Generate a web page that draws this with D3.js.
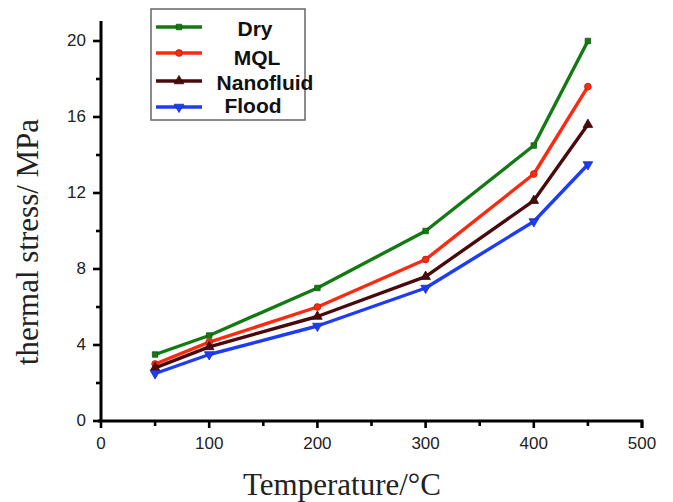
<!DOCTYPE html>
<html>
<head>
<meta charset="utf-8">
<script src="https://cdn.jsdelivr.net/npm/d3@7"></script>
<style>
  html, body { margin: 0; padding: 0; background: #fff; }
  svg { display: block; }
  .axis path, .axis line { stroke: #000; fill: none; }
  .axis path { stroke-width: 3px; }
  .axis line { stroke-width: 2.6px; }
</style>
</head>
<body>
<svg id="chart" width="673" height="502"></svg>
<script>
// Temperatures (°C) at which thermal stress was evaluated
const temperatures = [50, 100, 200, 300, 400, 450];

// Thermal stress (MPa) per cooling condition
const dryStress = [3.5, 4.5, 7.0, 10.0, 14.5, 20.0];
const mqlStress = [3.0, 4.15, 6.0, 8.5, 13.0, 17.6];
const nanofluidStress = [2.8, 3.9, 5.5, 7.6, 11.6, 15.6];
const floodStress = [2.5, 3.5, 5.0, 7.0, 10.5, 13.5];

const seriesNames = ["Dry", "MQL", "Nanofluid", "Flood"];

const xTicks = [0, 100, 200, 300, 400, 500];
const xMinorTicks = [50, 150, 250, 350, 450];
const yTicks = [0, 4, 8, 12, 16, 20];
const yMinorTicks = [2, 6, 10, 14, 18];

const series = [
  { name: seriesNames[0], values: dryStress, color: "#137a13", symbol: d3.symbolSquare, size: 30, rot: 0 },
  { name: seriesNames[1], values: mqlStress, color: "#fb2a10", symbol: d3.symbolCircle, size: 36, rot: 0 },
  { name: seriesNames[2], values: nanofluidStress, color: "#4a0a0c", symbol: d3.symbolTriangle, size: 40, rot: 0 },
  { name: seriesNames[3], values: floodStress, color: "#1f3cf5", symbol: d3.symbolTriangle, size: 40, rot: 180 }
];

const svg = d3.select("#chart");

const x = d3.scaleLinear().domain([0, 500]).range([101, 642]);
const y = d3.scaleLinear().domain([0, 20]).range([421, 41]);

// Axes
const tickFont = "Liberation Sans, Arial, sans-serif";

const xAxis = svg.append("g").attr("class", "axis").attr("transform", `translate(0,${y(0)})`);
xAxis.call(d3.axisBottom(x).tickValues(xTicks).tickSize(7).tickPadding(9).tickSizeOuter(0).offset(0));
xAxis.append("g").selectAll("line").data(xMinorTicks).join("line")
  .attr("x1", d => x(d)).attr("x2", d => x(d)).attr("y1", 0).attr("y2", 5);

const yAxis = svg.append("g").attr("class", "axis").attr("transform", `translate(${x(0)},0)`);
yAxis.call(d3.axisLeft(y).tickValues(yTicks).tickSize(8).tickPadding(7).tickSizeOuter(0).offset(0));
yAxis.append("g").selectAll("line").data(yMinorTicks).join("line")
  .attr("x1", 0).attr("x2", -5).attr("y1", d => y(d)).attr("y2", d => y(d));

// axis line extends slightly above the top tick; x axis ends with a short drop
yAxis.select(".domain").attr("d", `M0,${y(0)}V21`);
xAxis.select(".domain").attr("d", `M${x(0) - 3},0H${x(500)}V7`);

[xAxis, yAxis].forEach(g => {
  g.selectAll("text").attr("font-family", tickFont).attr("font-size", 17)
    .attr("fill", "#222");
});

// Series lines and markers
const line = d3.line().x((d, i) => x(temperatures[i])).y(d => y(d));

series.forEach(s => {
  svg.append("path")
    .datum(s.values)
    .attr("d", line)
    .attr("fill", "none")
    .attr("stroke", s.color)
    .attr("stroke-width", 3.4)
    .attr("stroke-linejoin", "round");
  svg.append("g").selectAll("path").data(s.values).join("path")
    .attr("d", d3.symbol().type(s.symbol).size(s.size))
    .attr("transform", (d, i) => `translate(${x(temperatures[i])},${y(d)}) rotate(${s.rot})`)
    .attr("fill", s.color)
    .attr("stroke", d3.color(s.color).darker(0.8))
    .attr("stroke-width", 0.8);
});

// Axis titles
svg.append("text")
  .attr("x", 342).attr("y", 495)
  .attr("text-anchor", "middle")
  .attr("font-family", "Liberation Serif, Times New Roman, serif")
  .attr("font-size", 31)
  .attr("fill", "#222")
  .text("Temperature/°C");

svg.append("text")
  .attr("transform", "translate(38,242) rotate(-90)")
  .attr("text-anchor", "middle")
  .attr("font-family", "Liberation Serif, Times New Roman, serif")
  .attr("font-size", 31)
  .attr("fill", "#222")
  .text("thermal stress/ MPa");

// Legend
const legend = svg.append("g");
legend.append("rect")
  .attr("x", 151).attr("y", 9).attr("width", 154).attr("height", 111)
  .attr("fill", "none").attr("stroke", "#666").attr("stroke-width", 1.5);

const legendRowY = [27, 53, 81, 107];
const legendTextY = [36, 65, 90, 113];
const legendTextX = [255, 257, 265, 253];
series.forEach((s, i) => {
  const ly = legendRowY[i];
  legend.append("line")
    .attr("x1", 156).attr("x2", 202).attr("y1", ly).attr("y2", ly)
    .attr("stroke", s.color).attr("stroke-width", 3.4);
  legend.append("path")
    .attr("d", d3.symbol().type(s.symbol).size(s.size))
    .attr("transform", `translate(179,${ly}) rotate(${s.rot})`)
    .attr("fill", s.color)
    .attr("stroke", d3.color(s.color).darker(0.8))
    .attr("stroke-width", 0.8);
  legend.append("text")
    .attr("x", legendTextX[i]).attr("y", legendTextY[i])
    .attr("text-anchor", "middle")
    .attr("font-family", "Liberation Sans, Arial, sans-serif")
    .attr("font-weight", "bold")
    .attr("font-size", 21)
    .attr("fill", "#111")
    .text(s.name);
});
</script>
</body>
</html>
